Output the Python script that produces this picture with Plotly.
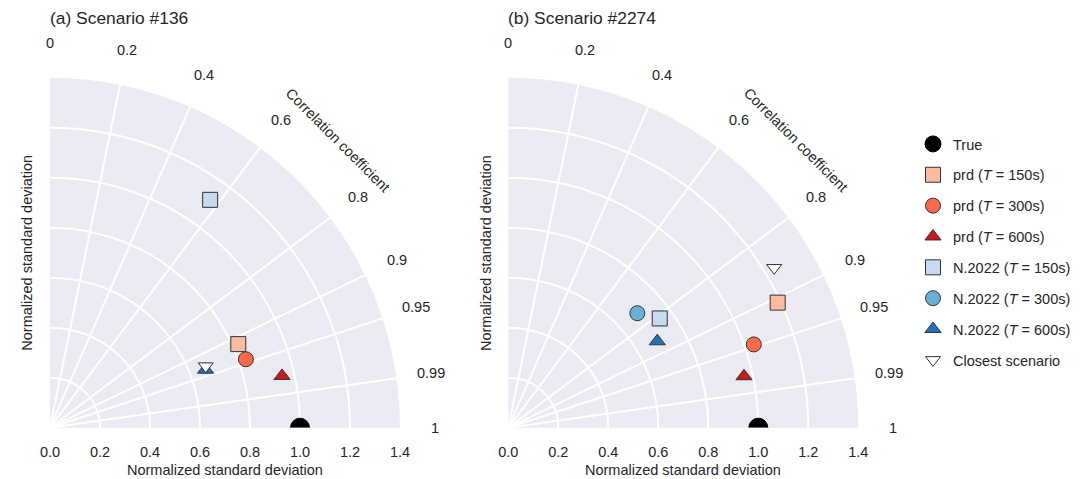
import numpy as np
import plotly.graph_objects as go

# ---------------- data ----------------
corr_ticks = [0, 0.2, 0.4, 0.6, 0.8, 0.9, 0.95, 0.99, 1]
corr_tick_text = ["0", "0.2", "0.4", "0.6", "0.8", "0.9", "0.95", "0.99", "1"]
std_ticks = [0.0, 0.2, 0.4, 0.6, 0.8, 1.0, 1.2, 1.4]
std_tick_text = ["0.0", "0.2", "0.4", "0.6", "0.8", "1.0", "1.2", "1.4"]

series_names = ["True", "prd (<i>T</i> = 150s)", "prd (<i>T</i> = 300s)", "prd (<i>T</i> = 600s)",
                "N.2022 (<i>T</i> = 150s)", "N.2022 (<i>T</i> = 300s)", "N.2022 (<i>T</i> = 600s)",
                "Closest scenario"]

panel_titles = ["(a) Scenario #136", "(b) Scenario #2274"]

# normalized std and correlation per series (None = not visible)
std_a = [1.0, 0.824, 0.830, 0.951, 1.114, None, 0.664, 0.670]
corr_a = [1.0, 0.914, 0.944, 0.976, 0.575, None, 0.937, 0.930]
std_b = [1.0, 1.188, 1.037, 0.965, 0.747, 0.690, 0.689, 1.241]
corr_b = [1.0, 0.907, 0.947, 0.977, 0.811, 0.748, 0.865, 0.857]

# ---------------- styles ----------------
symbols = ["circle", "square", "circle", "triangle-up", "square", "circle", "triangle-up", "triangle-down"]
colors = ["#000000", "#FCBBA1", "#FB6A4A", "#CB181D", "#C6DBEF", "#6BAED6", "#2171B5", "#FFFFFF"]
sizes = [19, 15, 15, 14, 15, 15, 14, 13]
edge = ["#000000"] + ["#333333"] * 7

FONT = "Liberation Sans, Arial, sans-serif"
TXT = "#262626"
FS = 14.5
W, H = 1089, 479
RMAX = 1.4

# panel domains in pixels (left, right, top, bottom)
px_dom = [(50.0, 400.0, 77.7, 427.7), (508.3, 858.3, 77.7, 427.7)]
domains = [dict(x=[l / W, r / W], y=[1 - b / H, 1 - t / H]) for (l, r, t, b) in px_dom]


def to_paper(i, xd, yd):
    d = domains[i]
    return (d["x"][0] + xd / RMAX * (d["x"][1] - d["x"][0]),
            d["y"][0] + yd / RMAX * (d["y"][1] - d["y"][0]))


fig = go.Figure()

for i, (stds, corrs) in enumerate([(std_a, corr_a), (std_b, corr_b)]):
    sub = "polar" if i == 0 else "polar2"
    for k in range(len(series_names)):
        if stds[k] is None:
            r, th = [None], [None]
        else:
            r, th = [stds[k]], [float(np.degrees(np.arccos(corrs[k])))]
        fig.add_trace(go.Scatterpolar(
            r=r, theta=th, mode="markers", subplot=sub,
            name=series_names[k], legendgroup=f"g{k}",
            showlegend=(i == 1),
            cliponaxis=True,
            marker=dict(symbol=symbols[k], color=colors[k], size=sizes[k],
                        line=dict(color=edge[k], width=1)),
        ))

inner_corr = [c for c in corr_ticks if 0 < c < 1]
polar_common = dict(
    sector=[0, 90],
    bgcolor="#EAEAF2",
    radialaxis=dict(range=[0, RMAX], tickvals=std_ticks, ticktext=std_tick_text,
                    showline=False, showgrid=True, gridcolor="white", gridwidth=1.7,
                    ticks="outside", ticklen=11, tickcolor="rgba(0,0,0,0)",
                    tickfont=dict(family=FONT, size=FS, color=TXT),
                    angle=0, side="clockwise"),
    angularaxis=dict(thetaunit="degrees", direction="counterclockwise", rotation=0,
                     tickvals=[float(np.degrees(np.arccos(c))) for c in inner_corr],
                     showticklabels=False, ticks="", showline=False,
                     showgrid=True, gridcolor="white", gridwidth=1.7),
)

fig.update_layout(
    polar=dict(domain=domains[0], **polar_common),
    polar2=dict(domain=domains[1], **polar_common),
)

annotations = []
for i in range(2):
    # correlation tick labels
    for c, t in zip(corr_ticks, corr_tick_text):
        a = np.arccos(c)
        x, y = to_paper(i, 1.54 * np.cos(a), 1.54 * np.sin(a))
        annotations.append(dict(x=x, y=y, xref="paper", yref="paper", text=t, showarrow=False,
                                xanchor="center", yanchor="middle",
                                font=dict(family=FONT, size=FS, color=TXT)))
    # correlation title
    x, y = to_paper(i, 1.628 * np.cos(np.pi / 4), 1.628 * np.sin(np.pi / 4))
    annotations.append(dict(x=x, y=y, xref="paper", yref="paper", text="Correlation coefficient",
                            showarrow=False, textangle=45, xanchor="center", yanchor="middle",
                            font=dict(family=FONT, size=FS, color=TXT)))
    d = domains[i]
    # x title
    annotations.append(dict(x=(d["x"][0] + d["x"][1]) / 2, y=1 - 470 / H, xref="paper", yref="paper",
                            text="Normalized standard deviation", showarrow=False,
                            xanchor="center", yanchor="middle",
                            font=dict(family=FONT, size=FS, color=TXT)))
    # y title
    annotations.append(dict(x=d["x"][0] - 23 / W, y=(d["y"][0] + d["y"][1]) / 2, xref="paper", yref="paper",
                            text="Normalized standard deviation", showarrow=False, textangle=-90,
                            xanchor="center", yanchor="middle",
                            font=dict(family=FONT, size=FS, color=TXT)))
    # panel title
    annotations.append(dict(x=d["x"][0] - 2 / W, y=1 - 18 / H, xref="paper", yref="paper",
                            text=panel_titles[i], showarrow=False,
                            xanchor="left", yanchor="middle",
                            font=dict(family=FONT, size=17.4, color=TXT)))

fig.update_layout(
    width=W, height=H,
    margin=dict(l=0, r=0, t=0, b=0),
    paper_bgcolor="white",
    font=dict(family=FONT, size=FS, color=TXT),
    annotations=annotations,
    showlegend=True,
    legend=dict(x=913 / W, y=1 - 128 / H, xanchor="left", yanchor="top",
                bgcolor="rgba(0,0,0,0)", tracegroupgap=9, itemsizing="trace",
                font=dict(family=FONT, size=FS, color=TXT)),
)

fig.write_html("out.html",
               config={"displayModeBar": False},
               post_script="document.body.style.margin='0';document.body.style.padding='0';")
